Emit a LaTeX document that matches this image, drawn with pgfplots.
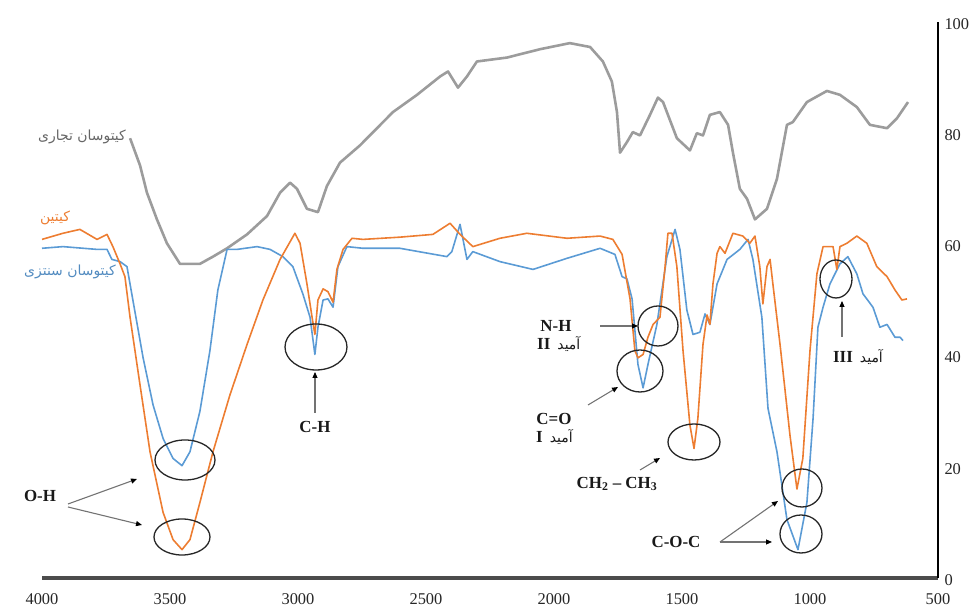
\documentclass[border=0pt]{standalone}
\usepackage{pgfplots}
\pgfplotsset{compat=1.18}
\usepackage{fontspec}
\setmainfont{Liberation Serif}
\newfontfamily\arabicfont[Script=Arabic]{DejaVu Sans}
\TeXXeTstate=1
\usetikzlibrary{arrows.meta}
\definecolor{cgray}{HTML}{9C9C9C}
\definecolor{corange}{HTML}{ED7D31}
\definecolor{cblue}{HTML}{5B9BD5}
\begin{document}
\begin{tikzpicture}
\begin{axis}[
  scale only axis, width=896bp, height=556bp,
  xmin=500, xmax=4000, ymin=0, ymax=100, x dir=reverse,
  axis x line*=bottom, axis y line*=right,
  x axis line style={-, line width=3bp, color=black!70},
  y axis line style={-, line width=1.2bp, color=black},
  xtick={500,1000,...,4000}, ytick={0,20,...,100},
  major tick length=0pt,
  /pgf/number format/assume math mode=true,
  /pgf/number format/set thousands separator={},
  ticklabel style={font=\fontsize{16.5}{18}\selectfont, text=black!85},
  xticklabel style={yshift=-12bp},
  yticklabel style={xshift=3bp, yshift=-2bp},
  clip=false,
]
\addplot[cgray, line width=2.6bp, line join=round] coordinates {
(3656,79.1)(3617,74.2)(3590,69.3)(3551,64.5)(3512,60.2)(3461,56.5)(3383,56.5)(3332,57.8)(3277,59.3)(3199,61.8)(3121,65.1)(3070,69.3)(3031,71.1)(3004,70.0)(2965,66.4)(2922,65.8)(2887,70.5)(2836,74.7)(2758,77.8)(2629,83.8)(2535,86.9)(2445,90.2)(2414,91.1)(2375,88.2)(2340,90.2)(2301,92.9)(2184,93.6)(2055,95.1)(1938,96.2)(1859,95.5)(1809,92.9)(1774,89.3)(1754,83.8)(1742,76.5)(1715,78.4)(1692,80.2)(1664,79.6)(1625,83.3)(1594,86.4)(1574,85.6)(1520,79.1)(1469,76.9)(1442,80.0)(1418,79.6)(1391,83.3)(1352,83.8)(1320,81.5)(1301,76.5)(1274,70.0)(1246,68.2)(1215,64.5)(1168,66.4)(1129,71.8)(1090,81.5)(1067,82.0)(1012,85.6)(934,87.6)(883,86.9)(817,84.7)(766,81.5)(699,80.9)(660,82.7)(617,85.6)
};
\addplot[cblue, line width=1.6bp, line join=round] coordinates {
(4000,59.3)(3918,59.6)(3785,59.1)(3746,59.1)(3727,57.3)(3695,56.9)(3668,56.0)(3645,50.0)(3605,39.6)(3566,31.1)(3527,25.1)(3488,21.5)(3453,20.2)(3422,22.7)(3383,30.0)(3344,40.9)(3313,51.8)(3277,59.1)(3238,59.1)(3160,59.6)(3109,59.1)(3059,57.8)(3020,56.0)(2981,51.1)(2953,46.9)(2934,40.2)(2922,45.1)(2902,50.0)(2883,50.2)(2863,48.7)(2844,56.0)(2809,59.6)(2746,59.3)(2602,59.3)(2418,57.8)(2399,58.7)(2367,63.6)(2340,57.3)(2317,58.7)(2211,56.9)(2082,55.5)(1949,57.5)(1820,59.3)(1762,58.2)(1734,54.2)(1715,53.8)(1695,50.2)(1672,38.4)(1652,34.2)(1633,38.4)(1598,45.6)(1559,57.8)(1527,62.7)(1508,59.1)(1481,48.2)(1457,43.8)(1430,44.2)(1410,47.5)(1391,45.6)(1363,52.9)(1324,57.3)(1274,59.1)(1242,60.9)(1223,57.3)(1188,46.9)(1164,30.5)(1129,22.7)(1090,10.5)(1047,5.1)(1012,13.6)(988,28.7)(969,45.1)(949,48.7)(922,52.9)(883,56.5)(852,57.8)(817,54.7)(793,51.1)(754,48.7)(727,45.1)(699,45.6)(668,43.3)(648,43.3)(637,42.7)
};
\addplot[corange, line width=1.6bp, line join=round] coordinates {
(4000,60.9)(3918,62.0)(3852,62.7)(3785,60.9)(3746,61.8)(3723,59.6)(3695,56.5)(3676,54.2)(3656,46.9)(3617,34.7)(3578,22.7)(3527,11.8)(3488,6.9)(3453,5.1)(3422,6.9)(3383,13.6)(3332,22.7)(3266,32.9)(3199,42.0)(3137,50.0)(3070,57.3)(3012,62.0)(2992,60.2)(2965,52.9)(2945,46.9)(2934,43.8)(2922,50.0)(2902,52.0)(2883,51.5)(2863,49.6)(2848,55.5)(2824,59.1)(2789,61.1)(2746,60.9)(2602,61.3)(2473,61.8)(2406,63.8)(2367,61.8)(2317,59.6)(2211,61.1)(2106,62.0)(1949,61.1)(1820,61.5)(1770,60.9)(1734,58.2)(1703,50.2)(1684,40.9)(1672,39.6)(1652,40.2)(1633,43.3)(1613,45.6)(1586,46.9)(1566,56.0)(1555,62.0)(1539,62.0)(1520,56.0)(1496,40.9)(1469,27.5)(1453,23.3)(1438,28.7)(1418,42.0)(1402,47.3)(1391,45.6)(1379,52.9)(1363,58.4)(1352,59.6)(1332,58.4)(1301,62.0)(1262,61.5)(1235,60.2)(1215,61.5)(1196,56.0)(1184,49.3)(1168,56.0)(1156,57.3)(1145,52.9)(1117,42.0)(1078,25.6)(1051,16.0)(1028,21.5)(1000,40.9)(973,54.7)(949,59.6)(910,59.6)(895,55.5)(883,59.6)(856,60.2)(817,61.5)(778,60.2)(739,56.0)(699,54.2)(668,51.8)(641,50.0)(621,50.2)
};
\end{axis}
\begin{scope}[shift={(-42bp,578bp)}, x=1bp, y=-1bp]
  \tikzset{circ/.style={draw=black!85, line width=1.3bp},
           arr/.style={draw=black!55, line width=1.1bp, -{Triangle[length=6bp,width=5bp,color=black]}},
           lab/.style={font=\bfseries\fontsize{17}{19}\selectfont, text=black!90, inner sep=0pt},
           fa/.style={font=\arabicfont\fontsize{14}{16}\selectfont, inner sep=0pt}}
  % ellipses
  \draw[circ] (185,460) ellipse [x radius=30, y radius=20];
  \draw[circ] (182,537) ellipse [x radius=28, y radius=18];
  \draw[circ] (316,347) ellipse [x radius=31, y radius=23];
  \draw[circ] (658,326) ellipse [x radius=20, y radius=20];
  \draw[circ] (640,371) ellipse [x radius=23, y radius=21];
  \draw[circ] (694,442) ellipse [x radius=26, y radius=18];
  \draw[circ] (802,488) ellipse [x radius=20, y radius=19];
  \draw[circ] (801,534) ellipse [x radius=21, y radius=19];
  \draw[circ] (836,279) ellipse [x radius=16, y radius=19];
  % arrows
  \draw[arr] (68,504) -- (137,479);
  \draw[arr] (68,507) -- (142,525);
  \draw[arr] (315,413) -- (315,372);
  \draw[arr] (600,326) -- (638,326);
  \draw[arr] (588,405) -- (618,387);
  \draw[arr] (640,470) -- (660,458);
  \draw[arr] (720,542) -- (778,501);
  \draw[arr] (720,542) -- (772,542);
  \draw[arr] (842,337) -- (842,301);
  % labels
  \node[lab] at (40,496) {O-H};
  \node[lab] at (315,427) {C-H};
  \node[lab] at (556,326) {N-H};
  \node[lab, anchor=west] at (537,344) {II \,{\mdseries\arabicfont\fontsize{14}{16}\selectfont\beginR آمید\endR}};
  \node[lab] at (554,419) {C=O};
  \node[lab, anchor=west] at (536,437) {I \,{\mdseries\arabicfont\fontsize{14}{16}\selectfont\beginR آمید\endR}};
  \node[lab] at (617,484) {CH\textsubscript{2} -- CH\textsubscript{3}};
  \node[lab] at (676,542) {C-O-C};
  \node[lab] at (858,357) {III \,{\mdseries\arabicfont\fontsize{14}{16}\selectfont\beginR آمید\endR}};
  \node[fa, text=black!60] at (82,137) {\beginR کیتوسان تجاری\endR};
  \node[fa, text=corange] at (55,218) {\beginR کیتین\endR};
  \node[fa, text=cblue!90!black] at (70,272) {\beginR کیتوسان سنتزی\endR};
\end{scope}
\pgfresetboundingbox
\path[use as bounding box] (-42bp,-30bp) rectangle (927bp,578bp);
\end{tikzpicture}
\end{document}
